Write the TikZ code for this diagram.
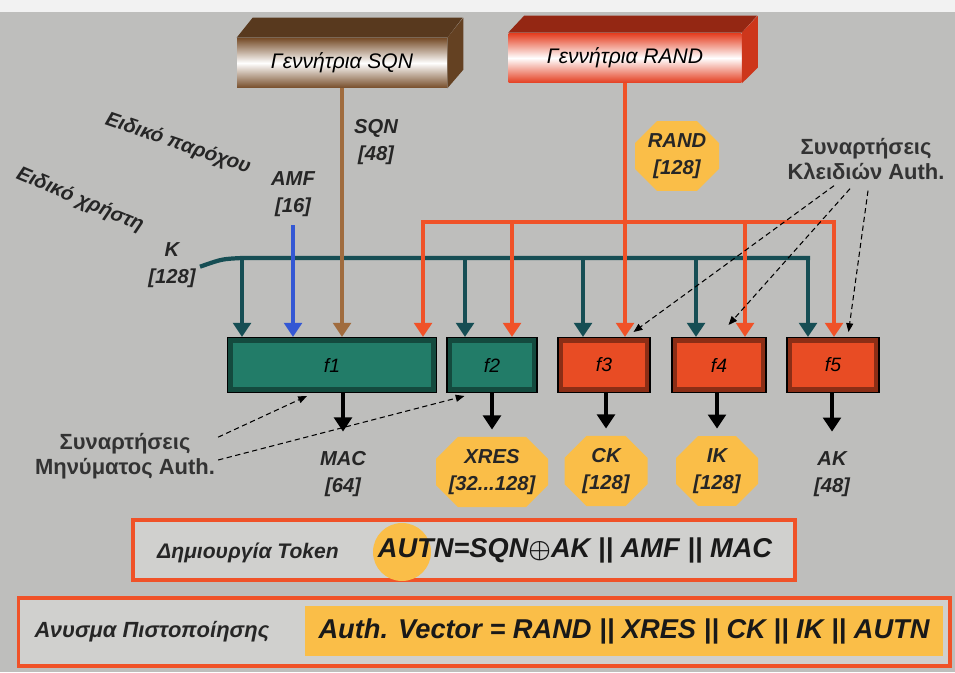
\documentclass[tikz,border=0pt]{standalone}
\usepackage{fontspec}
\setmainfont{Liberation Sans}
\usetikzlibrary{arrows.meta,shapes.misc,calc}

\definecolor{bggray}{RGB}{190,190,188}
\definecolor{panelgray}{RGB}{208,208,206}
\definecolor{tealk}{RGB}{22,78,84}
\definecolor{tealbox}{RGB}{34,124,104}
\definecolor{redline}{RGB}{240,82,40}
\definecolor{redbox}{RGB}{232,76,36}
\definecolor{sqnline}{RGB}{160,108,62}
\definecolor{sqnbrown}{RGB}{118,76,40}
\definecolor{randred}{RGB}{228,60,30}
\definecolor{bluea}{RGB}{52,88,212}
\definecolor{octyellow}{RGB}{250,190,72}

\tikzset{
  lbl/.style={font=\fontsize{11.5}{15}\selectfont\bfseries\itshape, align=center, text=black!85},
  note/.style={font=\fontsize{12.5}{14}\selectfont\bfseries, align=center, text=black!80},
  flow/.style={line width=2.4pt, -{Triangle[length=8pt,width=10pt]}},
  hint/.style={densely dashed, semithick, -{Triangle[length=5pt,width=4pt]}},
  octo/.style={chamfered rectangle, chamfered rectangle xsep=0.22cm,
    chamfered rectangle ysep=0.22cm, fill=octyellow, inner sep=1pt,
    minimum height=1.36cm, lbl},
  fbox/.style={draw=black, line width=0.6pt, fill=#1!60!black, inner sep=0pt,
    minimum height=1.1cm, font=\fontsize{11}{12}\selectfont\itshape,
    path picture={\fill[#1] ($(path picture bounding box.south west)+(5,-5)$)
      rectangle ($(path picture bounding box.north east)+(-5,5)$);}},
  gen/.style={minimum height=1cm, top color=#1, bottom color=#1, middle color=white,
    font=\fontsize{12}{13}\selectfont\itshape},
  formula/.style={font=\fontsize{15.5}{17}\selectfont\bfseries\itshape, text=black!90}
}

\begin{document}
\begin{tikzpicture}[x=0.02cm, y=-0.02cm]
  \useasboundingbox (0,0) rectangle (955,672);
  \fill[bggray] (0,0) rectangle (955,672);
  \fill[white!90!gray] (0,0) rectangle (955,12);

  % generatory
  \node[gen=sqnbrown, minimum width=4.2cm] (sqngen) at (342,63) {Γεννήτρια SQN};
  \fill[sqnbrown!75!black] (sqngen.north west) -- ++(16,-20) -- ++(210,0) -- (sqngen.north east) -- cycle;
  \fill[sqnbrown!85!black] (sqngen.north east) -- ++(16,-20) -- ++(0,52) -- (sqngen.south east) -- cycle;
  \node[gen=randred, minimum width=4.66cm] (randgen) at (625,58) {Γεννήτρια RAND};
  \fill[randred!65!black] (randgen.north west) -- ++(16,-17) -- ++(233,0) -- (randgen.north east) -- cycle;
  \fill[randred!90!black] (randgen.north east) -- ++(16,-17) -- ++(0,52) -- (randgen.south east) -- cycle;

  % funkcje f1..f5
  \node[fbox=tealbox, minimum width=4.18cm] (f1) at (332,365) {f1};
  \node[fbox=tealbox, minimum width=1.8cm] (f2) at (492,365) {f2};
  \node[fbox=redbox, minimum width=1.84cm] (f3) at (604,365) {f3};
  \node[fbox=redbox, minimum width=1.88cm] (f4) at (719,365) {f4};
  \node[fbox=redbox, minimum width=1.84cm] (f5) at (833,365) {f5};

  % etykiety wejsc
  \node[lbl] (sqnlbl) at (376,142) {SQN\\{}[48]};
  \node[lbl] (amflbl) at (293,194) {AMF\\{}[16]};
  \node[lbl] (klbl) at (172,265) {K\\{}[128]};
  \node[octo, minimum width=1.68cm, minimum height=1.18cm] (randlbl) at (677,156) {RAND\\{}[128]};
  \node[lbl, rotate=-19] (oplbl) at (178,144) {Ειδικό παρόχου};
  \node[lbl, rotate=-23] (uslbl) at (80,200) {Ειδικό χρήστη};

  % szyna K
  \coordinate (kin) at (202,266);
  \foreach \x [count=\i] in {242,465,583,696,808} \coordinate (k\i) at (\x,258);
  \draw[tealk, line width=2.4pt, line cap=rect] (kin) .. controls (222,259) .. (k1) -- (k5);
  \foreach \i in {1,...,5} \draw[flow, tealk] (k\i) -- (k\i |- f\i.north);

  % SQN, AMF, RAND
  \draw[flow, sqnline] (sqngen.south) -- (sqngen.south |- f1.north);
  \coordinate (amfin) at (293,225);
  \draw[flow, bluea] (amfin) -- (amfin |- f1.north);
  \foreach \x [count=\i] in {423,512,624,745,834} \coordinate (r\i) at (\x,222);
  \draw[redline, line width=2.4pt, line cap=rect] (r1) -- (r5);
  \foreach \i/\f in {1/f1,2/f2,4/f4,5/f5} \draw[flow, redline] (r\i) -- (r\i |- \f.north);
  \draw[flow, redline] (randgen.south) -- (randgen.south |- f3.north);

  % wyjscia
  \node[octo, fill=none, minimum width=1.6cm] (mac) at (343,474) {MAC\\{}[64]};
  \node[octo, minimum width=2.22cm] (xres) at (492,472) {XRES\\{}[32...128]};
  \node[octo, minimum width=1.66cm] (ck) at (606,471) {CK\\{}[128]};
  \node[octo, minimum width=1.64cm] (ik) at (717,471) {IK\\{}[128]};
  \node[octo, fill=none, minimum width=1.6cm] (ak) at (832,474) {AK\\{}[48]};
  \foreach \o/\f in {mac/f1,xres/f2,ck/f3,ik/f4,ak/f5}
    \draw[flow, black, shorten >=4pt] (\o.north |- \f.south) -- (\o.north);

  % opisy funkcji
  \node[note] (macfun) at (125,456) {Συναρτήσεις\\Μηνύματος Auth.};
  \node[note] (keyfun) at (866,159) {Συναρτήσεις\\Κλειδιών Auth.};
  \draw[hint] ($(macfun.north east)+(-3,10)$) -- ($(f1.south west)+(80,3)$);
  \draw[hint] ($(macfun.east)+(-3,4)$) -- ($(f2.south west)+(18,3)$);
  \draw[hint] ($(keyfun.south)+(-32,0)$) -- ($(f3.north east)+(-17,-5)$);
  \draw[hint] ($(keyfun.south)+(-16,3)$) -- ($(f4.north east)+(-38,-12)$);
  \draw[hint] ($(keyfun.south)+(2,5)$) -- ($(f5.north east)+(-31,-5)$);

  % token
  \node[draw=redline, line width=1.8pt, fill=panelgray, minimum width=13.24cm,
    minimum height=1.2cm] (token) at (464,550) {};
  \fill[octyellow] (402,552) circle (0.58cm);
  \node[lbl, font=\fontsize{12}{13}\selectfont\bfseries\itshape] (tokenlbl) at (248,553) {Δημιουργία Token};
  \node[formula] (autn) at (575,550) {AUTN=SQN{\boldmath$\oplus$}AK || AMF || MAC};

  % wektor
  \node[draw=redline, line width=1.8pt, fill=panelgray, minimum width=18.64cm,
    minimum height=1.36cm] (vecbox) at (484,632) {};
  \node[lbl, font=\fontsize{12.5}{13}\selectfont\bfseries\itshape] (veclbl) at (152,632) {Ανυσμα Πιστοποίησης};
  \node[formula, fill=octyellow, minimum width=12.76cm, minimum height=1cm] (vector) at (624,631)
    {Auth. Vector = RAND || XRES || CK || IK || AUTN};
\end{tikzpicture}
\end{document}
